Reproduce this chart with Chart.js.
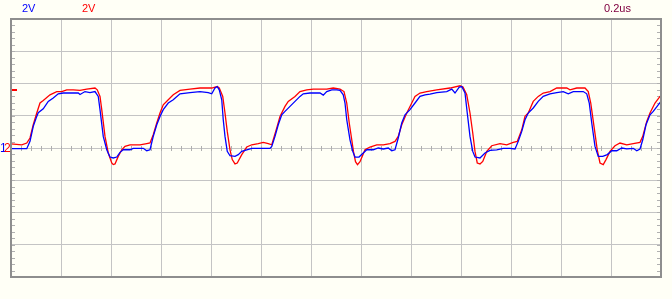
<!DOCTYPE html>
<html>
<head>
  <meta charset="UTF-8" />
  <title>Scope capture</title>
  <script src="https://cdn.jsdelivr.net/npm/chart.js"></script>
  <style>
    html, body { margin: 0; padding: 0; background: #fffff6; }
    canvas { display: block; }
  </style>
</head>
<body>
  <canvas id="scope" width="672" height="299"></canvas>

  <script>
    // time in ns, voltage in V (2 V/div, 0.2 us/div)
    const blueT = [0, 63, 76, 89, 103, 109, 129, 149, 169, 189, 209, 269, 276, 296, 316, 336, 349, 356, 369, 383,
      396, 409, 423, 436, 449, 476, 489, 529, 543, 556, 569, 583, 596, 609, 629, 649,
      676, 716, 756, 789, 803, 816, 825, 833, 843, 849, 856, 865, 876, 896, 909, 923, 943, 963,
      1036, 1043, 1056, 1069, 1083, 1096, 1116, 1136, 1156, 1169, 1196, 1236, 1249, 1263, 1283, 1303,
      1316, 1329, 1336, 1343, 1356, 1367, 1376, 1392, 1409, 1423, 1449, 1469, 1489, 1509, 1523, 1536,
      1549, 1563, 1576, 1596, 1616, 1636, 1656, 1676, 1703, 1743, 1763, 1776, 1793, 1803, 1816, 1825,
      1836, 1847, 1856, 1876, 1896, 1916, 1943, 1969, 1996, 2016, 2029, 2043, 2056, 2069, 2089, 2109,
      2129, 2156, 2183, 2209, 2229, 2249, 2289, 2303, 2313, 2323, 2336, 2349, 2367, 2385, 2403, 2423,
      2443, 2463, 2489, 2503, 2516, 2527, 2540, 2556, 2569, 2589, 2600];
    const blueV = [-0.04, -0.04, 0.41, 1.34, 1.96, 2.19, 2.43, 2.89, 3.10, 3.36, 3.41, 3.41, 3.32, 3.50, 3.44, 3.50, 3.20, 2.38, 0.72, -0.11,
      -0.56, -0.62, -0.56, -0.27, -0.11, -0.11, -0.02, -0.02, -0.17, -0.11, 0.72, 1.44, 1.96, 2.38, 2.79, 2.99,
      3.36, 3.44, 3.49, 3.44, 3.36, 3.72, 3.81, 3.61, 2.99, 1.75, 0.72, -0.21, -0.48, -0.52, -0.41, -0.21, -0.11, -0.02,
      -0.02, 0.10, 0.72, 1.44, 2.06, 2.27, 2.58, 2.89, 3.20, 3.36, 3.41, 3.41, 3.28, 3.50, 3.61, 3.61,
      3.57, 3.30, 2.79, 1.75, 0.51, -0.21, -0.56, -0.56, -0.31, -0.11, -0.11, 0, -0.06, 0, -0.17, -0.11,
      0.62, 1.55, 2.06, 2.38, 2.79, 3.20, 3.30, 3.34, 3.44, 3.50, 3.65, 3.41, 3.78, 3.81, 3.41, 2.17,
      0.72, -0.21, -0.56, -0.62, -0.31, -0.15, -0.11, -0.02, -0.02, -0.06, 0.41, 1.03, 1.75, 2.17, 2.48, 2.89,
      3.20, 3.36, 3.44, 3.50, 3.36, 3.50, 3.50, 3.36, 2.79, 1.55, 0.10, -0.52, -0.52, -0.41, -0.17, -0.17,
      0, -0.06, -0.02, -0.17, -0.06, 0.51, 1.44, 2.06, 2.27, 2.68, 2.89];

    const redT = [0, 43, 63, 76, 89, 103, 116, 129, 156, 183, 203, 223, 249, 276, 303, 336, 345, 356, 363, 376,
      389, 403, 409, 416, 429, 443, 456, 476, 516, 543, 556, 569, 583, 596, 609, 629, 649,
      676, 716, 756, 803, 825, 833, 847, 856, 865, 876, 885, 896, 905, 923, 943, 963, 989, 1009, 1029,
      1043, 1049, 1063, 1076, 1096, 1109, 1136, 1156, 1183, 1209, 1263, 1289, 1316, 1332, 1343, 1353,
      1363, 1370, 1378, 1386, 1396, 1406, 1416, 1436, 1463, 1489, 1516, 1536, 1549, 1563, 1583, 1603,
      1616, 1636, 1663, 1703, 1756, 1796, 1808, 1823, 1836, 1847, 1856, 1865, 1876, 1887, 1903, 1923,
      1956, 1983, 2009, 2025, 2043, 2056, 2069, 2089, 2109, 2129, 2156, 2183, 2223, 2236, 2263, 2296,
      2309, 2319, 2332, 2345, 2356, 2369, 2380, 2396, 2416, 2436, 2463, 2489, 2516, 2527, 2543, 2556,
      2576, 2596, 2600];
    const redV = [0.25, 0.20, 0.31, 0.62, 1.44, 2.17, 2.79, 2.95, 3.30, 3.49, 3.49, 3.61, 3.61, 3.57, 3.65, 3.72, 3.61, 3.20, 2.38, 0.72,
      -0.31, -0.93, -1.03, -0.99, -0.52, -0.11, 0.10, 0.19, 0.19, 0.27, 0.31, 0.82, 1.55, 2.17, 2.68, 2.99, 3.30,
      3.57, 3.65, 3.72, 3.72, 3.81, 3.73, 3.20, 2.17, 1.03, -0.11, -0.72, -0.99, -0.93, -0.41, 0.06, 0.20, 0.27, 0.35, 0.27,
      0.20, 0.51, 1.24, 1.96, 2.58, 2.89, 3.20, 3.50, 3.61, 3.65, 3.65, 3.72, 3.65, 3.50, 2.79, 1.55,
      0.51, -0.23, -0.85, -1.03, -0.85, -0.48, -0.11, 0.06, 0.20, 0.20, 0.27, 0.41, 0.72, 1.44, 2.17, 2.79,
      3.20, 3.41, 3.50, 3.61, 3.72, 3.86, 3.78, 3.30, 2.17, 0.93, -0.21, -0.93, -0.99, -0.83, -0.21, 0.14,
      0.27, 0.20, 0.35, 0.41, 1.13, 1.96, 2.17, 2.89, 3.20, 3.41, 3.50, 3.72, 3.72, 3.61, 3.72, 3.72,
      3.50, 2.79, 1.34, -0.11, -0.93, -1.03, -0.72, -0.21, 0.14, 0.31, 0.20, 0.27, 0.35, 0.72, 1.65, 2.17,
      2.79, 3.20, 3.24];

    const triggerLevel = 3.6;
    const timeMax = 2600, timeStep = 200;
    const voltMin = -8, voltMax = 8, voltStep = 2;

    const pairs = (t, v) => t.map((x, i) => ({ x: x, y: v[i] }));

    const GRID = '#c4c4c4';
    const FRAME = '#8e8e8e';
    const TICK = '#b0b0b0';

    // frame, minor ticks, labels
    const scopeDecor = {
      id: 'scopeDecor',
      beforeDatasetsDraw(chart) {
        const { ctx, chartArea: a, scales } = chart;
        ctx.save();
        ctx.strokeStyle = TICK;
        ctx.lineWidth = 1;
        ctx.beginPath();
        // minor ticks on left and right edges
        for (let v = voltMin; v <= voltMax + 0.001; v += voltStep / 5) {
          const y = Math.round(scales.y.getPixelForValue(v)) + 0.5;
          ctx.moveTo(a.left, y); ctx.lineTo(a.left + 4, y);
          ctx.moveTo(a.right - 4, y); ctx.lineTo(a.right, y);
        }
        // minor ticks along the centre line
        const y0 = Math.round(scales.y.getPixelForValue(0));
        for (let t = 0; t <= timeMax; t += timeStep / 5) {
          const x = Math.round(scales.x.getPixelForValue(t)) + 0.5;
          ctx.moveTo(x, y0 - 2); ctx.lineTo(x, y0 + 3);
        }
        ctx.stroke();
        ctx.restore();
      },
      afterDraw(chart) {
        const { ctx, chartArea: a, scales } = chart;
        ctx.save();
        ctx.strokeStyle = FRAME;
        ctx.lineWidth = 2;
        ctx.strokeRect(a.left, a.top, a.right - a.left, a.bottom - a.top);

        // trigger marker
        const ty = Math.round(scales.y.getPixelForValue(triggerLevel));
        ctx.fillStyle = '#ff0000';
        ctx.fillRect(a.left + 1, ty - 1, 5, 2);

        ctx.font = '11px "Liberation Sans", Arial, sans-serif';
        ctx.textBaseline = 'middle';
        ctx.fillStyle = '#0000ff';
        ctx.fillText('2V', 22, 9);
        ctx.fillStyle = '#ff0000';
        ctx.fillText('2V', 82, 9);
        ctx.fillStyle = '#800040';
        ctx.fillText('0.2us', 604, 9);

        // channel ground markers
        const gy = scales.y.getPixelForValue(0) + 1;
        ctx.font = '12px "Liberation Sans", Arial, sans-serif';
        ctx.fillStyle = '#0000ff';
        ctx.fillText('1', 0, gy);
        ctx.fillStyle = '#ff0000';
        ctx.fillText('2', 4, gy);
        ctx.restore();
      }
    };

    new Chart(document.getElementById('scope'), {
      type: 'line',
      data: {
        datasets: [
          {
            label: 'CH1',
            data: pairs(blueT, blueV),
            borderColor: '#0000ff',
            borderWidth: 1.3,
            pointRadius: 0,
            tension: 0,
            order: 0
          },
          {
            label: 'CH2',
            data: pairs(redT, redV),
            borderColor: '#ff0000',
            borderWidth: 1.3,
            pointRadius: 0,
            tension: 0,
            order: 1
          }
        ]
      },
      options: {
        responsive: false,
        animation: false,
        devicePixelRatio: 1,
        layout: { padding: { left: 11, top: 19, right: 11, bottom: 22 } },
        plugins: { legend: { display: false }, tooltip: { enabled: false } },
        scales: {
          x: {
            type: 'linear',
            min: 0,
            max: timeMax,
            ticks: { display: false, stepSize: timeStep },
            grid: { color: GRID, lineWidth: 1, drawTicks: false },
            border: { display: false }
          },
          y: {
            type: 'linear',
            min: voltMin,
            max: voltMax,
            ticks: { display: false, stepSize: voltStep },
            grid: { color: GRID, lineWidth: 1, drawTicks: false },
            border: { display: false }
          }
        }
      },
      plugins: [scopeDecor]
    });
  </script>
</body>
</html>
